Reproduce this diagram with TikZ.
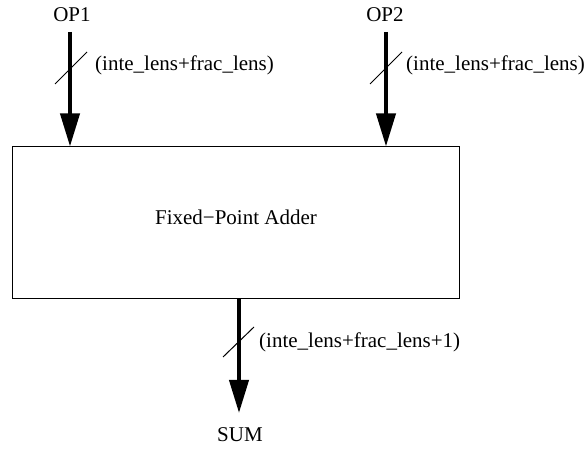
\documentclass[tikz,border=0pt]{standalone}
\usepackage{fontspec}
\setmainfont{Liberation Serif}
\usetikzlibrary{arrows.meta}
\begin{document}
\begin{tikzpicture}[x=1pt,y=-1pt,
  lbl/.style={inner sep=0pt, font=\fontsize{21}{24}\selectfont},
  bus/.style={line width=4pt, -{Triangle[length=33pt,width=19pt]}},
  slash/.style={line width=1pt},
  block/.style={draw, line width=1pt, minimum width=447pt, minimum height=152pt, inner sep=0pt}]
\useasboundingbox (0,0) rectangle (587,449);
\node[block] (box) at (235.5,223) {};
\node[lbl] (title) at (236,217) {Fixed−Point Adder};
\node[lbl] (op1) at (72,15) {OP1};
\node[lbl] (op2) at (385,15) {OP2};
\node[lbl] (sum) at (240,435) {SUM};
\coordinate (s1) at (70,32);
\coordinate (s2) at (386,32);
\coordinate (s3) at (239,299);
\coordinate (e3) at (239,413);
\draw[bus] (s1) -- (s1 |- box.north);
\draw[bus] (s2) -- (s2 |- box.north);
\draw[bus] (s3) -- (e3);
\draw[slash] (55,84) -- (87,52);
\draw[slash] (370,84) -- (402,52);
\draw[slash] (223,357) -- (254,327);
\node[lbl, anchor=west] (w1) at (95,65) {(inte\_lens+frac\_lens)};
\node[lbl, anchor=west] (w2) at (406,65) {(inte\_lens+frac\_lens)};
\node[lbl, anchor=west] (w3) at (259,342) {(inte\_lens+frac\_lens+1)};
\end{tikzpicture}
\end{document}
